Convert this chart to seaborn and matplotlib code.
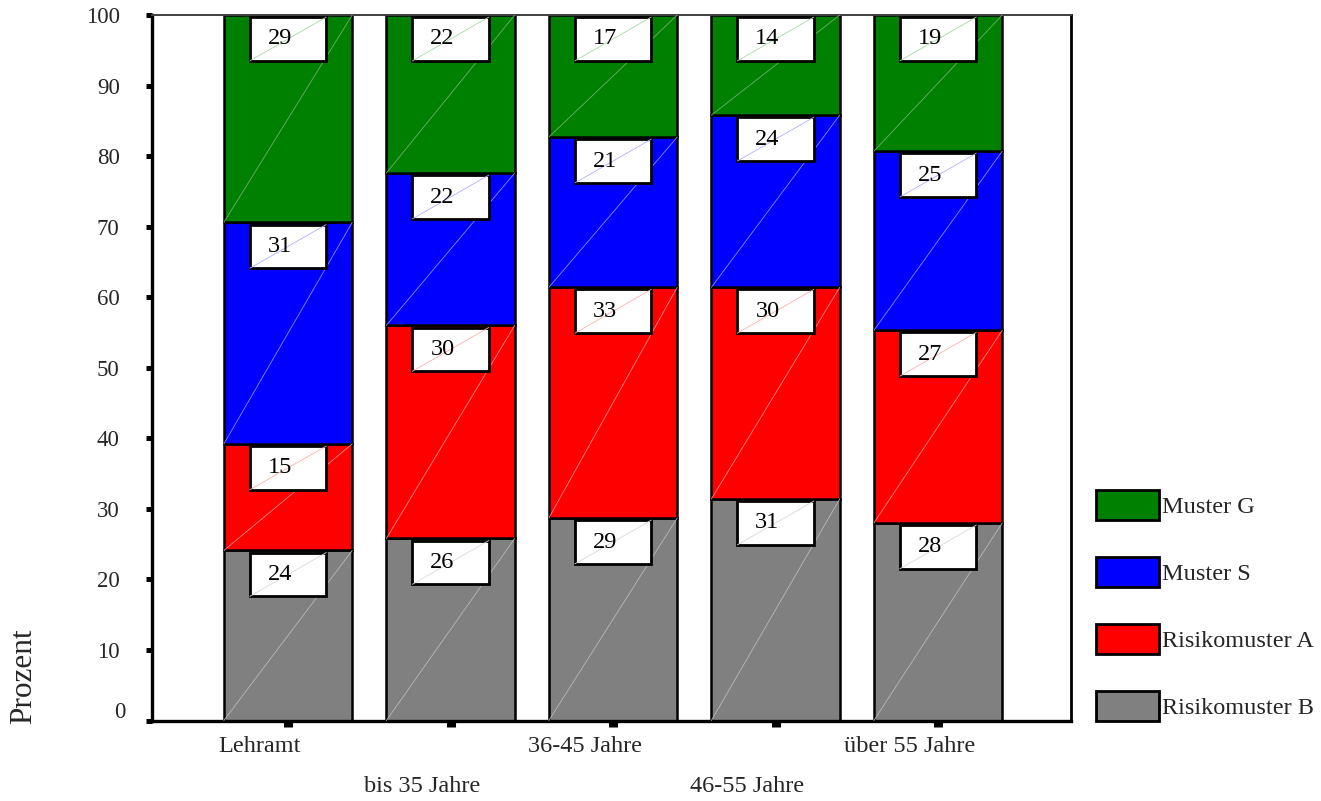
import matplotlib
matplotlib.use("Agg")
import matplotlib.pyplot as plt
import matplotlib.transforms as mtransforms
from matplotlib.patches import Rectangle, Patch
import seaborn as sns

# ---- data ----
categories = ["Lehramt", "bis 35 Jahre", "36-45 Jahre", "46-55 Jahre", "über 55 Jahre"]
series_names = ["Risikomuster B", "Risikomuster A", "Muster S", "Muster G"]
risiko_b = [24.1, 25.8, 28.7, 31.4, 28.0]
risiko_a = [15.1, 30.2, 32.7, 30.0, 27.3]
muster_s = [31.4, 21.6, 21.3, 24.4, 25.4]
muster_g = [29.4, 22.4, 17.3, 14.2, 19.3]
y_ticks = [0, 10, 20, 30, 40, 50, 60, 70, 80, 90, 100]

series_values = [risiko_b, risiko_a, muster_s, muster_g]
fill_colors = ["#808080", "#ff0000", "#0000ff", "#008000"]
diag_colors = ["#b8b8b8", "#ff8c8c", "#8c8cff", "#6cb06c"]
box_diag_colors = ["#d8d8d8", "#ffb0b0", "#b0b0ff", "#a8d8a8"]

sns.set_style("ticks")
plt.rcParams["font.family"] = ["Liberation Serif", "DejaVu Serif"]

FS = 17.5
W, H = 1321, 801
fig = plt.figure(figsize=(W / 100, H / 100), dpi=100)
ax = fig.add_axes([152 / W, 1 - 720.5 / H, (1071 - 152) / W, (720.5 - 15) / H])

bar_width = 0.79
bottoms = [0.0] * len(categories)
for vals, fc, dc, bdc in zip(series_values, fill_colors, diag_colors, box_diag_colors):
    n_before = len(ax.patches)
    sns.barplot(x=categories, y=vals, order=categories, color=fc, saturation=1,
                width=bar_width, edgecolor="black", linewidth=1.8,
                errorbar=None, ax=ax, zorder=2)
    new_patches = ax.patches[n_before:]
    for i, p in enumerate(new_patches):
        b = bottoms[i]
        p.set_y(b)
        x0 = p.get_x()
        w = p.get_width()
        top = b + vals[i]
        # faint diagonal inside segment
        ax.plot([x0, x0 + w], [b, top], color=dc, lw=0.6, zorder=3)
        # label box
        bw, bh = 0.47, 6.2
        cx = x0 + w / 2
        btop = top - 0.3
        ax.add_patch(Rectangle((cx - bw / 2, btop - bh), bw, bh, facecolor="white",
                               edgecolor="black", linewidth=2.0, zorder=4))
        ax.plot([cx - bw / 2, cx + bw / 2], [btop - bh, btop], color=bdc, lw=0.6, zorder=5)
        ax.text(cx - 0.05, btop - bh / 2, f"{vals[i]:.0f}", ha="center", va="center",
                fontsize=FS, color="black", zorder=6)
        bottoms[i] = top

ax.set_xlim(-0.837, 4.818)
ax.set_ylim(0, 100)
ax.set_yticks(y_ticks)
ax.set_yticklabels([str(t) for t in y_ticks], fontsize=16.5)
ax.set_xticks(range(len(categories)))
ax.set_xticklabels(categories, fontsize=FS)

ax.tick_params(axis="y", direction="out", length=4.3, width=3.6, pad=19, color="black")
ax.tick_params(axis="x", direction="out", length=4.3, width=6.5, pad=6.5, color="black")
for j, tick in enumerate(ax.xaxis.get_major_ticks()):
    if j % 2 == 1:
        tick.set_pad(6.5 + 28.8)
shift = mtransforms.ScaledTranslation(-0.28, 0, fig.dpi_scale_trans)
for lab in ax.get_xticklabels():
    lab.set_transform(lab.get_transform() + shift)
zero_shift = mtransforms.ScaledTranslation(0.06, 0.10, fig.dpi_scale_trans)
ylabs = ax.get_yticklabels()
ylabs[0].set_transform(ylabs[0].get_transform() + zero_shift)

for side in ["left", "bottom"]:
    ax.spines[side].set_linewidth(2.4)
    ax.spines[side].set_color("black")
ax.spines["right"].set_linewidth(2.0)
ax.spines["right"].set_color("black")
ax.spines["top"].set_linewidth(1.4)
ax.spines["top"].set_color("#404040")
ax.set_xlabel("")
ax.set_ylabel("Prozent", fontsize=22.5, ha="center", va="center", rotation=90)
ax.yaxis.set_label_coords((24 - 152) / 919, (720.5 - 676) / 705.5)

handles = [Patch(facecolor=fc, edgecolor="black", linewidth=2.0)
           for fc in fill_colors]
fig.legend(handles[::-1], series_names[::-1], loc="upper left",
           bbox_to_anchor=(1096 / W, 1 - 490 / H), frameon=False, fontsize=FS,
           handlelength=2.6, handleheight=1.52, handletextpad=0.12,
           labelspacing=1.52, borderpad=0, borderaxespad=0)

fig.savefig("out.png", dpi=100, facecolor="white")
